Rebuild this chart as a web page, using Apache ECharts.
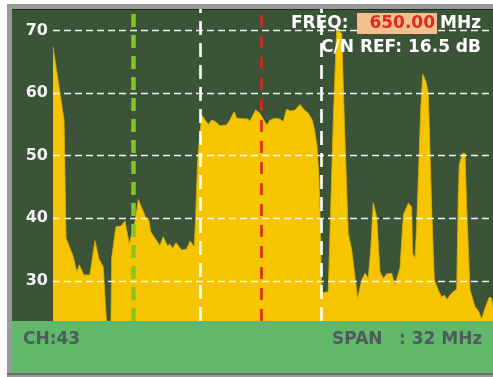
<!DOCTYPE html>
<html>
<head>
<meta charset="utf-8">
<script src="https://cdn.jsdelivr.net/npm/echarts@6/dist/echarts.min.js"></script>
<style>
  html, body { margin: 0; padding: 0; background: #ffffff; }
  #chart { width: 493px; height: 377px; }
</style>
</head>
<body>
<div id="chart"></div>
<script>
// Spectrum trace: frequency (MHz) and level (dBµV)
const freqMHz = [
  636.25, 636.98, 637.11, 637.59, 637.82, 637.99, 638.30, 638.69, 639.02, 639.29,
  639.57, 639.69, 639.80, 640.08, 640.13, 640.41, 640.74, 641.01, 641.29, 641.67,
  641.89, 642.40, 642.58, 642.71, 642.93, 643.32, 643.54, 643.81, 643.98, 644.16,
  644.38, 644.76, 645.09, 645.31, 645.59, 645.68, 645.82, 646.08, 646.30, 646.52,
  646.74, 647.00, 647.29, 647.73, 647.90, 648.23, 648.39, 649.12, 649.27, 649.65,
  649.93, 650.38, 650.60, 650.93, 651.26, 651.47, 651.70, 651.92, 652.25, 652.58,
  652.80, 653.13, 653.39, 653.52, 653.70, 653.83, 653.90, 653.97, 654.03, 654.45,
  654.78, 655.00, 655.34, 655.51, 655.77, 656.00, 656.39, 656.66, 656.88, 657.09,
  657.27, 657.42, 657.65, 657.87, 658.09, 658.31, 658.64, 658.86, 659.19, 659.41,
  659.74, 659.96, 660.03, 660.18, 660.29, 660.56, 660.69, 660.91, 661.06, 661.29,
  661.46, 661.72, 661.95, 662.10, 662.32, 662.50, 662.71, 662.94, 663.04, 663.11,
  663.34, 663.49, 663.60, 663.82, 664.15, 664.37, 664.59, 664.81, 665.09, 665.25,
  665.34
];
const levelDb = [
  67.35, 55.69, 36.84, 33.85, 31.45, 32.52, 30.93, 30.93, 36.41, 33.48,
  32.25, 32.00, 23.00, 23.00, 33.64, 38.64, 38.75, 39.55, 35.88, 39.44,
  42.99, 39.98, 39.71, 37.84, 37.04, 35.61, 37.04, 35.61, 35.83, 35.19,
  36.09, 34.92, 35.08, 36.36, 35.45, 40.35, 49.57, 56.53, 55.69, 55.00,
  55.69, 55.41, 54.78, 54.89, 55.53, 57.01, 55.96, 55.85, 55.53, 57.28,
  56.76, 54.89, 55.69, 55.96, 55.85, 55.41, 57.44, 57.12, 57.28, 58.19,
  57.44, 56.76, 55.69, 54.36, 51.69, 46.90, 41.31, 33.32, 28.05, 28.26,
  55.69, 70.06, 69.54, 55.69, 37.59, 34.92, 27.20, 30.13, 31.20, 30.40,
  35.45, 42.48, 40.24, 31.45, 30.40, 31.09, 31.20, 29.33, 32.04, 40.51,
  42.38, 41.84, 34.39, 33.59, 38.64, 57.28, 63.03, 61.80, 59.95, 41.31,
  30.13, 28.53, 27.36, 27.73, 27.04, 27.73, 28.26, 28.64, 42.91, 48.66,
  50.37, 50.37, 41.84, 28.53, 25.86, 25.22, 23.90, 25.61, 27.36, 27.20,
  25.65
];

// Level scale and reference lines
const levelTicks = [30, 40, 50, 60, 70];
const levelMin = 23.58;
const levelMax = 73.43;
const freqMin = 636.25;
const freqMax = 665.34;

// Markers: picture carrier, channel edges, centre frequency
const markerFreqs = [641.54, 645.97, 650.00, 653.97];
const markerColors = ['#86c426', '#ffffff', '#d9281c', '#ffffff'];

const centreFreq = '650.00';
const cnRef = '16.5';
const channel = '43';
const span = '32';

const chart = echarts.init(document.getElementById('chart'), null, { renderer: 'canvas' });

const traceData = freqMHz.map((f, i) => [f, levelDb[i]]);

const font = 'DejaVu Sans';

const markerLines = markerFreqs.map((f, i) => ({
  xAxis: f,
  lineStyle: {
    color: markerColors[i],
    width: i === 0 ? 4.5 : 2.6,
    type: i === 0 ? [13, 8] : (i === 2 ? [12, 9] : [14, 8]),
    opacity: 1
  }
}));

const gridLines = levelTicks.map(v => ({
  yAxis: v,
  lineStyle: { color: 'rgba(255,255,255,0.92)', width: 1.4, type: [7, 4] }
}));

chart.setOption({
  animation: false,
  backgroundColor: '#ffffff',
  graphic: [
    { type: 'rect', z: -10, shape: { x: 7, y: 4, width: 486, height: 373 }, style: { fill: '#9a9a9a' } },
    { type: 'rect', z: -9, shape: { x: 12, y: 9, width: 481, height: 312 }, style: { fill: '#3b5438' } },
    { type: 'rect', z: -9, shape: { x: 12, y: 9, width: 481, height: 1 }, style: { fill: '#1e2a1c' } },
    { type: 'rect', z: 20, shape: { x: 12, y: 321, width: 481, height: 52 }, style: { fill: '#62b86a' } },
    { type: 'rect', z: 20, shape: { x: 7, y: 373, width: 486, height: 2 }, style: { fill: '#6c6c6c' } },
    { type: 'text', z: 21, x: 23, y: 340, style: { text: 'CH:' + channel, fill: '#4c5d5b', font: 'bold 17px "' + font + '"', textAlign: 'left', textVerticalAlign: 'middle' } },
    { type: 'text', z: 21, x: 332, y: 340, style: { text: 'SPAN', fill: '#4c5d5b', font: 'bold 17px "' + font + '"', textAlign: 'left', textVerticalAlign: 'middle' } },
    { type: 'text', z: 21, x: 399, y: 340, style: { text: ': ' + span + ' MHz', fill: '#4c5d5b', font: 'bold 17px "' + font + '"', textAlign: 'left', textVerticalAlign: 'middle' } },
    { type: 'text', z: 21, x: 291, y: 24, style: { text: 'FREQ:', fill: '#ffffff', font: 'bold 17px "' + font + '"', textAlign: 'left', textVerticalAlign: 'middle' } },
    { type: 'rect', z: 21, shape: { x: 357, y: 13, width: 80, height: 21 }, style: { fill: '#f4c08e' } },
    { type: 'text', z: 22, x: 435, y: 24, style: { text: centreFreq, fill: '#e0281e', font: 'bold 17px "' + font + '"', textAlign: 'right', textVerticalAlign: 'middle' } },
    { type: 'text', z: 21, x: 440, y: 24, style: { text: 'MHz', fill: '#ffffff', font: 'bold 17px "' + font + '"', textAlign: 'left', textVerticalAlign: 'middle' } },
    { type: 'text', z: 21, x: 481, y: 48, style: { text: 'C/N REF: ' + cnRef + ' dB', fill: '#ffffff', font: 'bold 17px "' + font + '"', textAlign: 'right', textVerticalAlign: 'middle' } }
  ],
  grid: { left: 53, right: 0, top: 9, bottom: 56, containLabel: false },
  xAxis: {
    type: 'value',
    min: freqMin,
    max: freqMax,
    show: false
  },
  yAxis: {
    type: 'value',
    min: levelMin,
    max: levelMax,
    splitNumber: 5,
    axisLine: { show: false },
    axisTick: { show: false },
    splitLine: { show: false },
    axisLabel: {
      show: true,
      margin: 5,
      color: '#f2f2f2',
      fontFamily: font,
      fontWeight: 'bold',
      fontSize: 16,
      padding: [3, 0, 0, 0],
      showMinLabel: false,
      showMaxLabel: false,
      formatter: v => (Math.abs(v - Math.round(v / 10) * 10) < 1e-6 ? String(Math.round(v)) : '')
    }
  },
  series: [
    {
      type: 'line',
      data: traceData,
      showSymbol: false,
      smooth: false,
      z: 2,
      lineStyle: { color: '#d9b000', width: 0.8 },
      areaStyle: { color: '#f7c400', opacity: 1, origin: 'start' }
    },
    {
      type: 'line',
      data: [],
      z: 5,
      markLine: {
        silent: true,
        symbol: ['none', 'none'],
        label: { show: false },
        animation: false,
        data: gridLines
      }
    },
    {
      type: 'line',
      data: [],
      z: 6,
      markLine: {
        silent: true,
        symbol: ['none', 'none'],
        label: { show: false },
        animation: false,
        data: markerLines
      }
    }
  ]
});
</script>
</body>
</html>
